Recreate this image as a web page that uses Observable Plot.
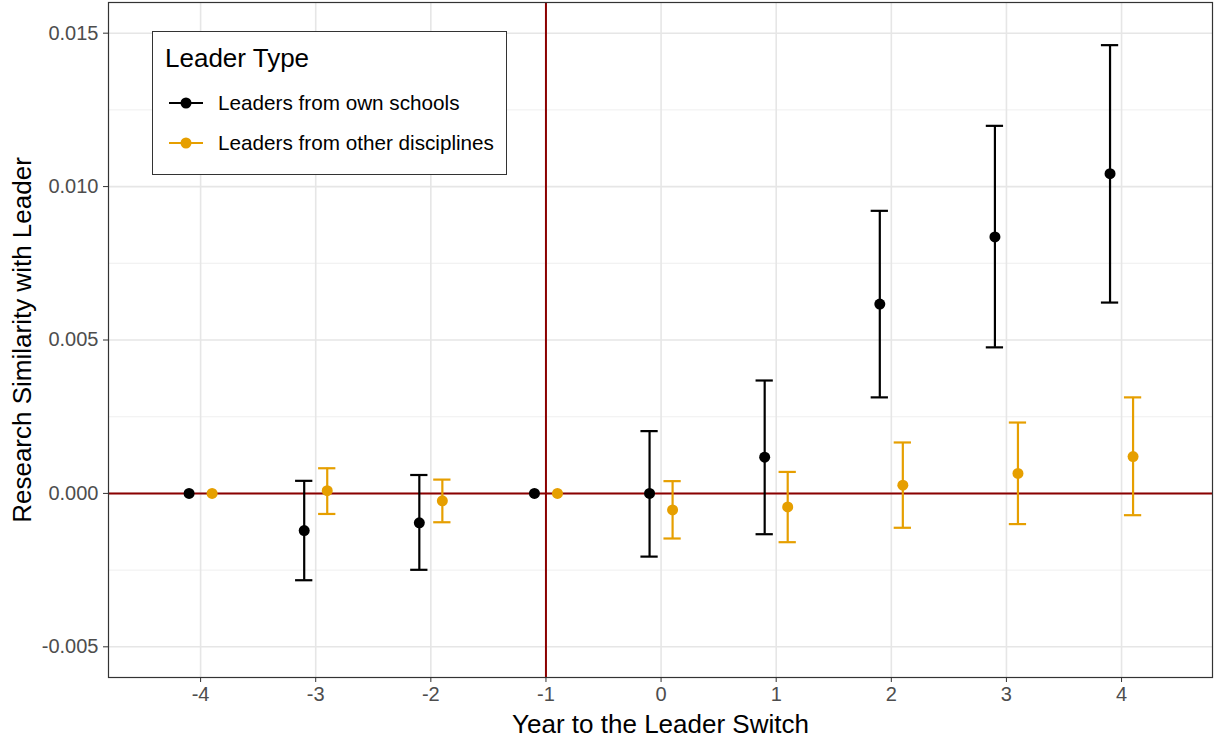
<!DOCTYPE html>
<html>
<head>
<meta charset="utf-8">
<script src="https://cdn.jsdelivr.net/npm/d3@7"></script>
<script src="https://cdn.jsdelivr.net/npm/@observablehq/plot@0.6"></script>
<style>
  html, body { margin: 0; padding: 0; background: #fff; }
  #wrap { position: relative; width: 1215px; height: 742px; font-family: "Liberation Sans", Arial, Helvetica, sans-serif; }
  #legend { position: absolute; left: 152px; top: 31px; width: 353px; height: 142px; border: 1px solid #333; background: #fff; }
  #legend .title { position: absolute; left: 12px; top: 11px; font-size: 26px; color: #000; line-height: 30px; }
  #legend .item { position: absolute; left: 16px; height: 24px; display: flex; align-items: center; font-size: 20.7px; color: #000; }
  #legend .item svg { margin-right: 15px; }
</style>
</head>
<body>
<div id="wrap"></div>
<script>
const years = [-4, -3, -2, -1, 0, 1, 2, 3, 4];
const groups = ["Leaders from own schools", "Leaders from other disciplines"];
const groupColors = ["#000000", "#E69F00"];
const ownEst = [0, -0.00121, -0.00096, 0, 0.0000, 0.00118, 0.00617, 0.00836, 0.01042];
const ownLo  = [null, -0.00283, -0.00249, null, -0.00206, -0.00133, 0.00313, 0.00476, 0.00622];
const ownHi  = [null, 0.00041, 0.00060, null, 0.00203, 0.00368, 0.00921, 0.01198, 0.01461];
const otherEst = [0, 0.00009, -0.00024, 0, -0.00054, -0.00044, 0.00027, 0.00065, 0.00120];
const otherLo  = [null, -0.00067, -0.00094, null, -0.00147, -0.00159, -0.00112, -0.00100, -0.00071];
const otherHi  = [null, 0.00082, 0.00045, null, 0.00040, 0.00070, 0.00166, 0.00231, 0.00313];
const yMajor = [-0.005, 0, 0.005, 0.010, 0.015];
const yMinor = [-0.0025, 0.0025, 0.0075, 0.0125];
const xTitle = "Year to the Leader Switch";
const yTitle = "Research Similarity with Leader";
const dodge = 0.1;
const capHalf = 0.075;

const rows = [];
years.forEach((yr, i) => {
  rows.push({year: yr, x: yr - dodge, est: ownEst[i], lo: ownLo[i], hi: ownHi[i], group: groups[0]});
  rows.push({year: yr, x: yr + dodge, est: otherEst[i], lo: otherLo[i], hi: otherHi[i], group: groups[1]});
});
const ci = rows.filter(d => d.lo != null);

const chart = Plot.plot({
  width: 1215,
  height: 742,
  marginLeft: 108,
  marginRight: 3,
  marginTop: 2,
  marginBottom: 65,
  style: {fontFamily: '"Liberation Sans", Arial, Helvetica, sans-serif', fontSize: "20px", color: "#4D4D4D", background: "#fff"},
  x: {domain: [-4.8, 4.79]},
  y: {domain: [-0.006, 0.016]},
  color: {domain: groups, range: groupColors},
  marks: [
    Plot.ruleY(yMinor, {stroke: "#EBEBEB", strokeWidth: 0.8}),
    Plot.ruleY(yMajor, {stroke: "#E6E6E6", strokeWidth: 1.6}),
    Plot.ruleX(years, {stroke: "#E6E6E6", strokeWidth: 1.6}),
    Plot.ruleY([0], {stroke: "#8B0000", strokeWidth: 2}),
    Plot.ruleX([-1], {stroke: "#8B0000", strokeWidth: 2}),
    Plot.ruleX(ci, {x: "x", y1: "lo", y2: "hi", stroke: "group", strokeWidth: 2.2}),
    Plot.ruleY(ci, {y: "hi", x1: d => d.x - capHalf, x2: d => d.x + capHalf, stroke: "group", strokeWidth: 2.2}),
    Plot.ruleY(ci, {y: "lo", x1: d => d.x - capHalf, x2: d => d.x + capHalf, stroke: "group", strokeWidth: 2.2}),
    Plot.dot(rows, {x: "x", y: "est", fill: "group", r: 5.5}),
    Plot.frame({stroke: "#333333", strokeWidth: 1.2}),
    Plot.axisY(yMajor, {tickFormat: d => d.toFixed(3), tickSize: 5, tickPadding: 5, label: null, stroke: "#333333"}),
    Plot.axisX(years, {tickFormat: d => String(d), tickSize: 5, tickPadding: 4, label: null, stroke: "#333333"}),
    Plot.text([xTitle], {frameAnchor: "bottom", dy: 47, lineAnchor: "middle", fontSize: 26, fill: "#000"}),
    Plot.text([yTitle], {frameAnchor: "left", dx: -86, rotate: -90, lineAnchor: "middle", textAnchor: "middle", fontSize: 26, fill: "#000"})
  ]
});

const wrap = document.getElementById("wrap");
wrap.appendChild(chart);

const legend = document.createElement("div");
legend.id = "legend";
const lt = document.createElement("div");
lt.className = "title";
lt.textContent = "Leader Type";
legend.appendChild(lt);
groups.forEach((g, i) => {
  const item = document.createElement("div");
  item.className = "item";
  item.style.top = (59 + i * 40) + "px";
  item.innerHTML = `<svg width="34" height="14"><line x1="0" y1="7" x2="34" y2="7" stroke="${groupColors[i]}" stroke-width="2.2"/><circle cx="17" cy="7" r="5.5" fill="${groupColors[i]}"/></svg>`;
  const span = document.createElement("span");
  span.textContent = g;
  item.appendChild(span);
  legend.appendChild(item);
});
wrap.appendChild(legend);
</script>
</body>
</html>
